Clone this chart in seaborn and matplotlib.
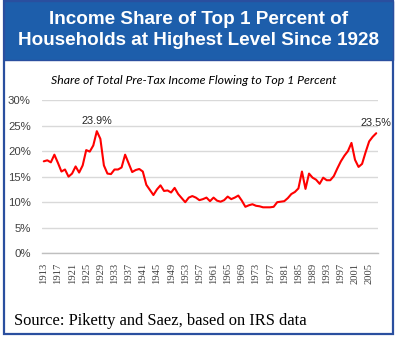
import matplotlib
matplotlib.use("Agg")
import matplotlib.pyplot as plt
import matplotlib.patches as mpatches
import matplotlib.ticker as mticker
import seaborn as sns
import pandas as pd

# ---- data ----
share = [
    18.0, 18.2, 17.8, 19.3, 17.7, 16.0, 16.4, 15.0, 15.6, 17.0,   # 1913-1922
    15.8, 17.2, 20.2, 19.9, 21.1, 23.9, 22.4, 17.2, 15.6, 15.5,   # 1923-1932
    16.4, 16.4, 16.8, 19.3, 17.6, 15.9, 16.3, 16.5, 16.0, 13.4,   # 1933-1942
    12.4, 11.4, 12.5, 13.3, 12.2, 12.3, 11.9, 12.8, 11.6, 10.8,   # 1943-1952
    10.0, 10.9, 11.2, 10.9, 10.4, 10.6, 10.9, 10.2, 10.9, 10.3,   # 1953-1962
    10.1, 10.4, 11.1, 10.6, 10.9, 11.3, 10.3, 9.1, 9.4, 9.6,      # 1963-1972
    9.3, 9.2, 9.0, 9.0, 9.0, 9.1, 10.0, 10.1, 10.2, 10.8,         # 1973-1982
    11.6, 12.0, 12.7, 16.0, 12.6, 15.6, 14.8, 14.4, 13.6, 14.8,   # 1983-1992
    14.3, 14.3, 15.1, 16.6, 18.0, 19.1, 20.0, 21.6, 18.3, 16.9,   # 1993-2002
    17.5, 19.8, 21.9, 22.8, 23.5,                                 # 2003-2007
]
first_year = 1913
years = list(range(first_year, first_year + len(share)))
label_years = list(range(1913, 2006, 4))
y_ticks = [0, 5, 10, 15, 20, 25, 30]
annotations = [(1928, 23.9, "23.9%"), (2007, 23.5, "23.5%")]

title = "Income Share of Top 1 Percent of\nHouseholds at Highest Level Since 1928"
subtitle = "Share of Total Pre-Tax Income Flowing to Top 1 Percent"
source = "Source: Piketty and Saez, based on IRS data"

df = pd.DataFrame({"year": years, "share": share})

# ---- figure ----
sns.set_style("white")
W, H = 400, 338
fig = plt.figure(figsize=(W / 100, H / 100), dpi=100)
fig.patch.set_facecolor("white")

def fx(px):
    return px / W

def fy(py):
    return 1 - py / H

# outer frame and blue header
frame = mpatches.Rectangle((fx(3.5), fy(334)), fx(393 - 3.5), fy(1) - fy(334),
                           transform=fig.transFigure, facecolor="white",
                           edgecolor="#2a4f9f", linewidth=1.6, zorder=-2)
fig.patches.append(frame)
header = mpatches.Rectangle((fx(3.5), fy(60)), fx(393 - 3.5), fy(1) - fy(60),
                            transform=fig.transFigure, facecolor="#1d5eab",
                            edgecolor="#2a4f9f", linewidth=1.0, zorder=-1)
fig.patches.append(header)

fig.text(fx(199), fy(30), title, ha="center", va="center", color="white",
         fontsize=13.6, fontweight="bold", linespacing=1.28,
         family=["Liberation Sans", "DejaVu Sans"])
fig.text(fx(194), fy(80), subtitle, ha="center", va="center", color="black",
         fontsize=8.8, style="italic", family=["Lato", "DejaVu Sans"])
fig.text(fx(14), fy(321), source, ha="left", va="center", color="black",
         fontsize=11.9, family=["Liberation Serif", "DejaVu Serif"])

# axes
ax = fig.add_axes([fx(42), fy(253.3), fx(378 - 42), fy(100) - fy(253.3)])
ax.set_zorder(2)
ax.set_facecolor("none")
sns.lineplot(data=df, x="year", y="share", ax=ax, color="#ff0000",
             linewidth=1.5, zorder=3)

ax.set_xlim(first_year - 0.5, years[-1] + 0.5)
ax.set_ylim(0, 30)
ax.set_yticks(y_ticks)
ax.yaxis.set_major_formatter(mticker.FuncFormatter(lambda v, p: f"{int(v)}%"))
ax.grid(axis="y", color="#d9d9d9", linewidth=1.0)
ax.grid(axis="x", visible=False)
for s in ["top", "right", "left"]:
    ax.spines[s].set_visible(False)
ax.spines["bottom"].set_color("#bfbfbf")
ax.spines["bottom"].set_linewidth(1.0)

ax.set_xticks(label_years)
ax.set_xticklabels([str(y) for y in label_years], rotation=90,
                   fontsize=7.6, color="#404040",
                   family=["Liberation Serif", "DejaVu Serif"])
ax.set_xticks([y - 0.5 for y in years] + [years[-1] + 0.5], minor=True)
ax.tick_params(axis="x", which="major", length=0, pad=7)
ax.tick_params(axis="x", which="minor", length=3, width=0.6, color="#bfbfbf",
               direction="out")
ax.tick_params(axis="y", length=0, pad=8, labelsize=8.2, labelcolor="#404040")
for lab in ax.get_yticklabels():
    lab.set_family(["Liberation Sans", "DejaVu Sans"])
ax.set_xlabel("")
ax.set_ylabel("")

for yr, val, txt in annotations:
    ax.annotate(txt, (yr, val), xytext=(0, 4), textcoords="offset points",
                ha="center", va="bottom", fontsize=7.8, color="#262626",
                annotation_clip=False,
                family=["Liberation Sans", "DejaVu Sans"])

fig.savefig("out.png", dpi=100)
